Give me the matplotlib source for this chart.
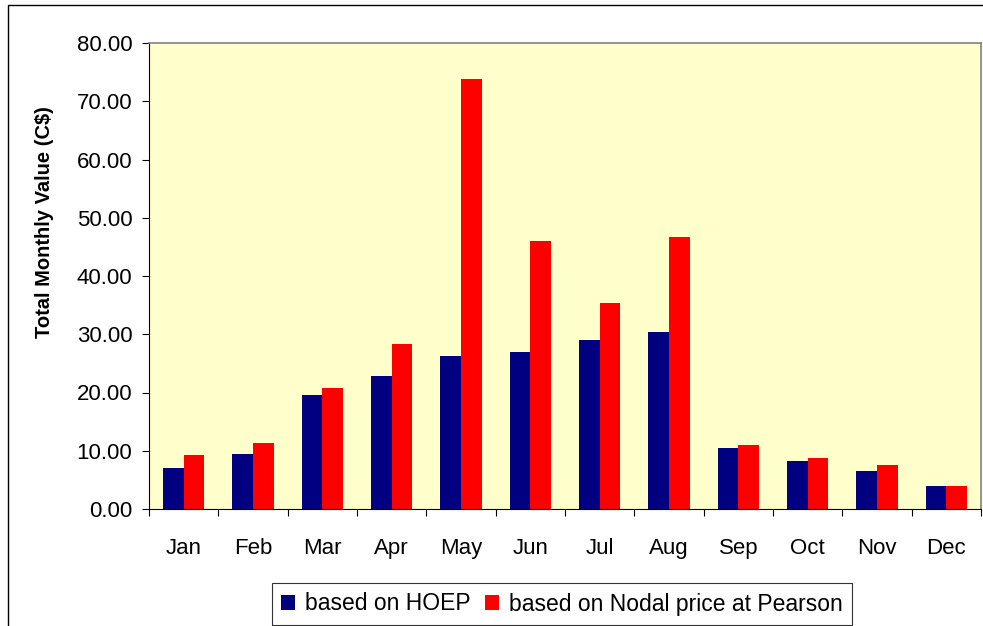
import matplotlib.pyplot as plt
import numpy as np
from matplotlib.patches import Rectangle

plt.rcParams['font.family'] = ['Liberation Sans', 'DejaVu Sans']

months = ['Jan', 'Feb', 'Mar', 'Apr', 'May', 'Jun', 'Jul', 'Aug', 'Sep', 'Oct', 'Nov', 'Dec']
hoep = [7.1, 9.5, 19.5, 22.9, 26.3, 27.0, 29.0, 30.4, 10.5, 8.3, 6.6, 3.9]
nodal = [9.3, 11.4, 20.7, 28.3, 73.9, 46.0, 35.3, 46.7, 11.0, 8.8, 7.6, 3.9]

fig = plt.figure(figsize=(9.83, 6.26), dpi=100)
ax = fig.add_axes([149 / 983, 1 - 509 / 626, 832 / 983, 466 / 626])

# outer chart border
fig.patches.append(Rectangle((8 / 983, -0.1), 1.2, 1 - 5 / 626 + 0.1, transform=fig.transFigure,
                             fill=False, edgecolor='black', linewidth=1.0))

x = np.arange(len(months))
w = 0.3
ax.bar(x - w / 2, hoep, w, color='#000080', label='based on HOEP')
ax.bar(x + w / 2, nodal, w, color='#FF0000', label='based on Nodal price at Pearson')

ax.set_facecolor('#FFFFCC')
ax.set_xlim(-0.5, 11.5)
ax.set_ylim(0, 80)
ax.set_yticks(np.arange(0, 81, 10))
ax.set_yticklabels(['%.2f' % v for v in np.arange(0, 81, 10)], fontsize=16)
ax.tick_params(axis='y', direction='out', length=5, width=0.8, pad=7)

ax.set_xticks(x)
ax.set_xticklabels(months, fontsize=16)
ax.set_xticks(np.arange(-0.5, 12, 1), minor=True)
ax.tick_params(axis='x', which='major', length=0, pad=21)
ax.tick_params(axis='x', which='minor', direction='out', length=5, width=0.8)

ax.set_ylabel('Total Monthly Value (C$)', fontsize=14.5, fontweight='bold')
ax.yaxis.set_label_coords(-0.114, 0.615)

for s in ['top', 'right']:
    ax.spines[s].set_color('#808080')
    ax.spines[s].set_linewidth(1.2)
for s in ['left', 'bottom']:
    ax.spines[s].set_color('black')
    ax.spines[s].set_linewidth(0.8)

leg = fig.legend(loc='center', bbox_to_anchor=(562 / 983, 1 - 604 / 626), ncol=2,
                 fontsize=16.5, frameon=True, fancybox=False, edgecolor='black',
                 handlelength=0.6, handleheight=0.6, handletextpad=0.45, columnspacing=0.65,
                 borderpad=0.4, borderaxespad=0)
leg.get_frame().set_linewidth(0.8)

fig.savefig('out.png', dpi=100)
